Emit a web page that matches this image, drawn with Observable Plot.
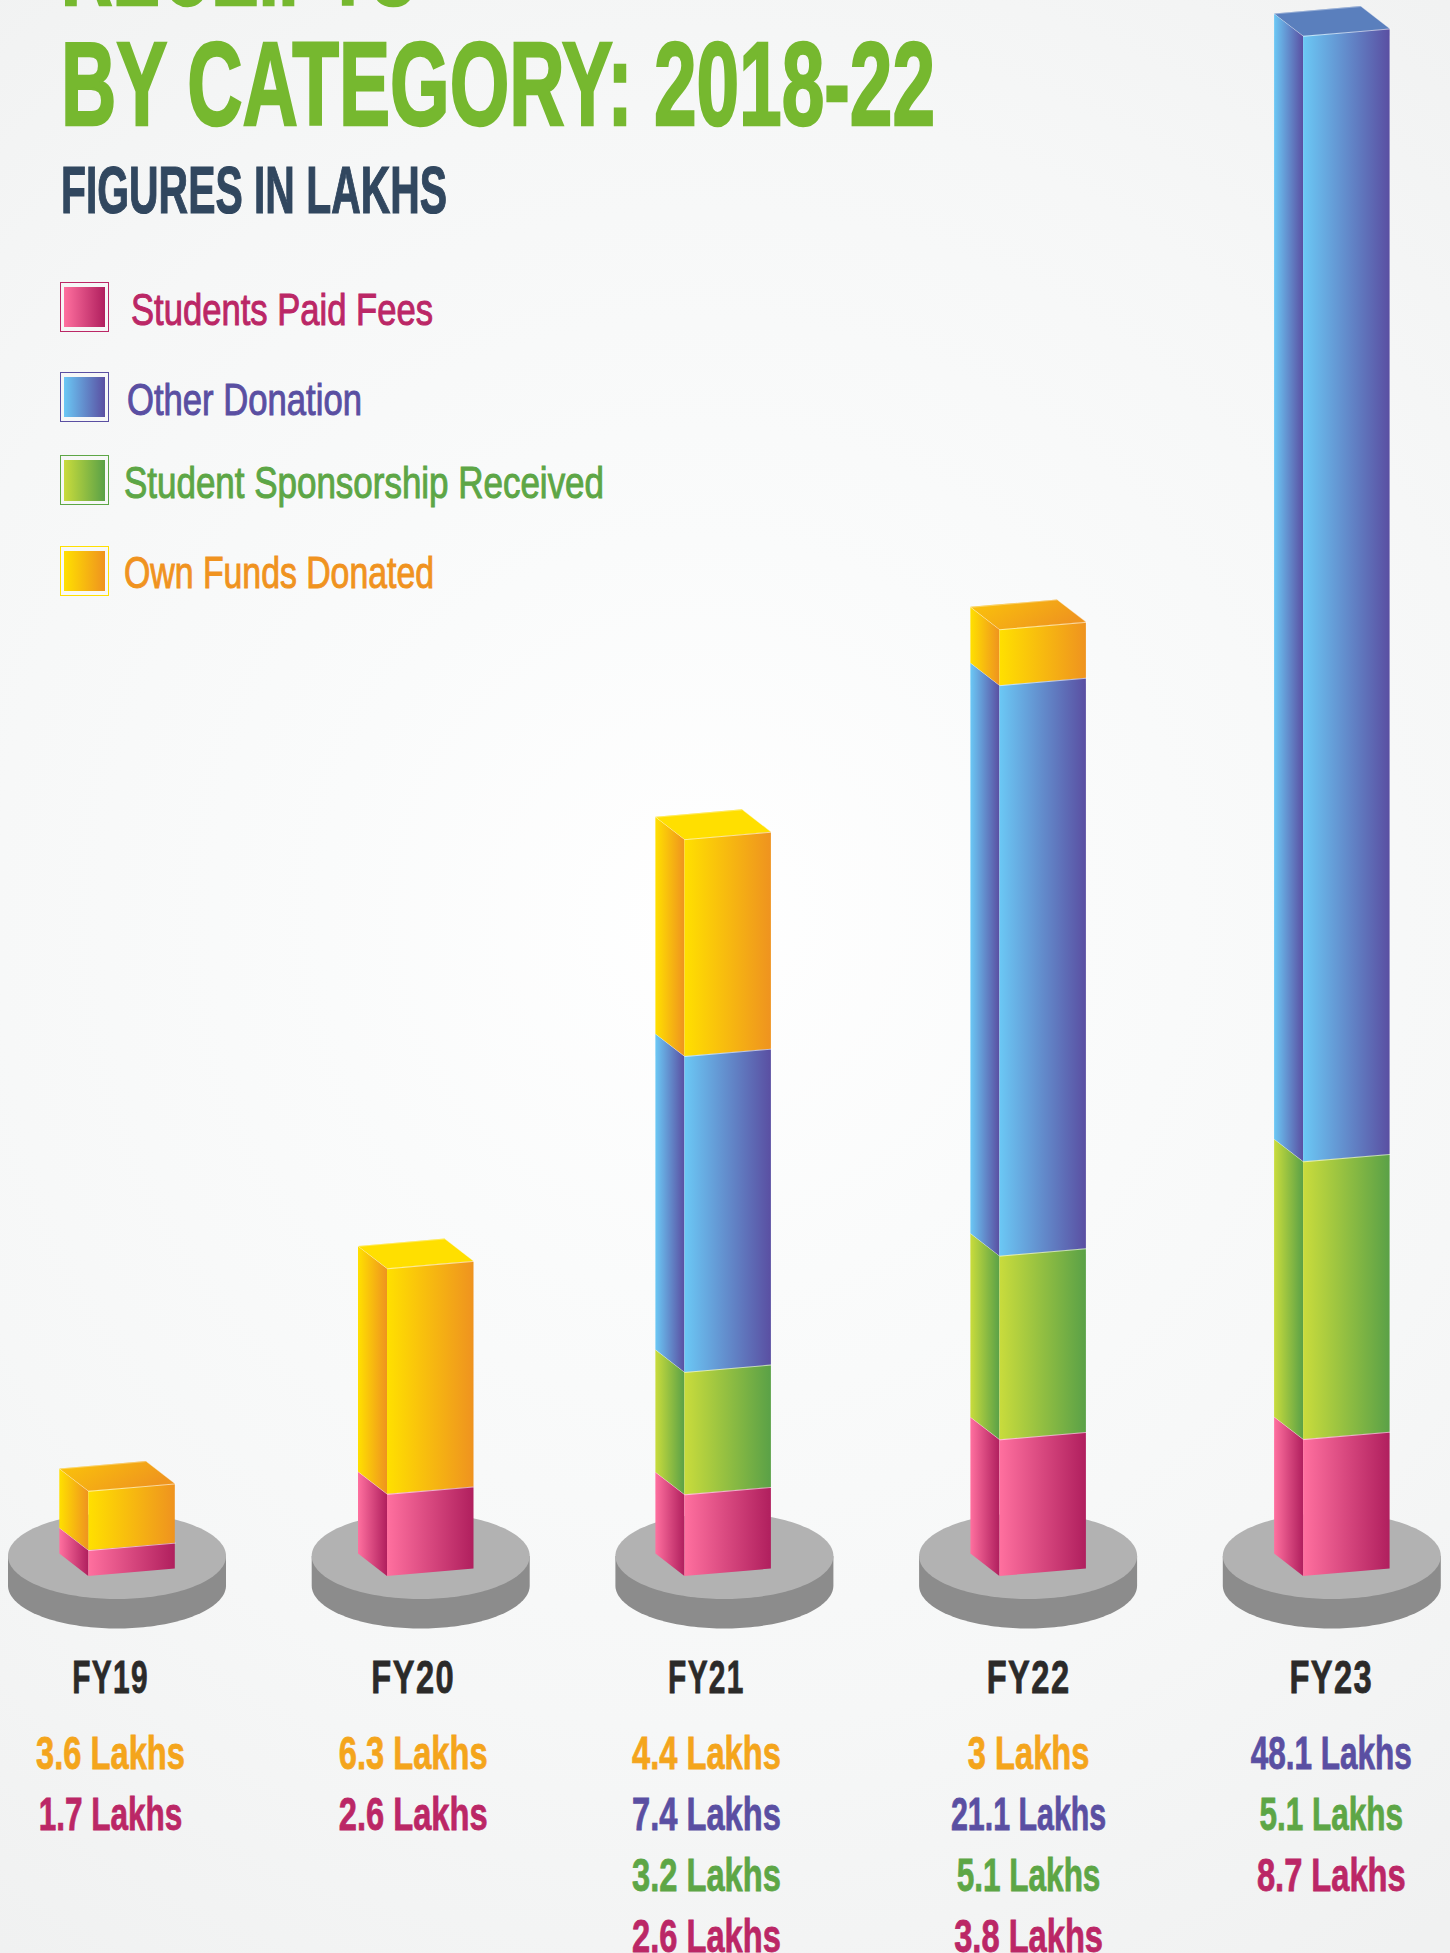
<!DOCTYPE html>
<html>
<head>
<meta charset="utf-8">
<script src="https://cdn.jsdelivr.net/npm/d3@7"></script>
<script src="https://cdn.jsdelivr.net/npm/@observablehq/plot@0.6"></script>
<style>
  html, body { margin: 0; padding: 0; }
  body { width: 1450px; height: 1953px; overflow: hidden; position: relative;
    background: radial-gradient(circle 1250px at 700px 915px, #ffffff 0%, #fafbfb 30%, #f6f7f7 65%, #f0f1f1 100%);
    font-family: "Liberation Sans", sans-serif; }
  #chart { position: absolute; left: 0; top: 0; }
  .fy text, .val text { font-family: "Liberation Sans", sans-serif !important; font-weight: 700; }
  .over { position: absolute; white-space: nowrap; display: inline-block; transform-origin: 0 0; margin: 0; }
  .swatch { position: absolute; box-sizing: border-box; width: 49px; height: 50px; border: 1.6px solid; padding: 3.6px 3.4px; }
  .swatch i { display: block; width: 100%; height: 100%; }
</style>
</head>
<body>
<div id="chart"></div>
<script>
// ---------- data ----------
const fiscalYears = ["FY19", "FY20", "FY21", "FY22", "FY23"];

// Figures printed under each bar (lakhs)
const ownFundsDonated   = [3.6, 6.3, 4.4, 3, null];
const otherDonation     = [null, null, 7.4, 21.1, 48.1];
const studentSponsorship = [null, null, 3.2, 5.1, 5.1];
const studentsPaidFees  = [1.7, 2.6, 2.6, 3.8, 8.7];

// The bars in the source graphic are not proportional to the printed figures,
// so the segment heights are read off the picture separately, in drawn units.
const drawnFees     = [1.11, 3.51, 3.49, 5.84, 5.85];
const drawnSponsor  = [0, 0, 5.23, 7.85, 11.87];
const drawnOther    = [0, 0, 13.5, 24.38, 48.1];
const drawnOwnFunds = [2.53, 9.64, 9.27, 2.39, 0];

const seriesNames = ["Students Paid Fees", "Other Donation", "Student Sponsorship Received", "Own Funds Donated"];

// ---------- layout and style ----------
const SLOT = 303.7, UNIT = 23.4;               // px per fiscal-year slot, px per drawn unit
const SLOT0 = 117, BASE = 1576;                // px of slot 0 and of the bar foot
const X = px => px / SLOT, Y = px => px / UNIT;
const barNudge   = [-28.7, -33.7, -40, -28.7, -28.7];   // front-left corner relative to the disc centre
const labelNudge = [-7, -8, -18.5, 0, -1];
const FACE_W = 86.5, FACE_RISE = 7.4, DEPTH_X = 29, DEPTH_Y = 22.4;
const DISC_RX = 109, DISC_RY = 43, DISC_LIFT = 20, DISC_SIDE = 29.5;

const colors = {
  fees:    {from: "#ff709f", to: "#b01f5e", text: "#bb2766"},
  other:   {from: "#6bc8f5", to: "#5a4fa2", text: "#5a4fa2"},
  sponsor: {from: "#c9dc3c", to: "#5aa147", text: "#5da646"},
  own:     {from: "#ffe000", to: "#ef931f", text: "#f4a51c"}
};
const topFills = ["url(#topOrange)", "#ffdf00", "#ffdf00", "url(#topOrange)", "#5a7fbd"];

// ---------- geometry through the x / y scales ----------
function faces(i) {
  const fx = i + X(barNudge[i]);                // front-left corner
  const stack = [
    ["fees", drawnFees[i]], ["sponsor", drawnSponsor[i]], ["other", drawnOther[i]], ["own", drawnOwnFunds[i]]
  ].filter(d => d[1] > 0);
  const marks = [];
  let h = 0;
  const fw = X(FACE_W), dx = X(DEPTH_X), dy = Y(DEPTH_Y), rise = Y(FACE_RISE);
  stack.forEach(([key, v]) => {
    const lo = h, hi = h + v;
    marks.push(Plot.areaY([
      {x: fx - dx, y1: lo + dy, y2: hi + dy},
      {x: fx, y1: lo, y2: hi}
    ], {x: "x", y1: "y1", y2: "y2", fill: `url(#grad-${key})`}));
    marks.push(Plot.areaY([
      {x: fx, y1: lo, y2: hi},
      {x: fx + fw, y1: lo + rise, y2: hi + rise}
    ], {x: "x", y1: "y1", y2: "y2", fill: `url(#grad-${key})`}));
    marks.push(Plot.line([
      {x: fx - dx, y: hi + dy}, {x: fx, y: hi}, {x: fx + fw, y: hi + rise}
    ], {x: "x", y: "y", stroke: "#fff", strokeWidth: 1, strokeOpacity: 0.6}));
    h = hi;
  });
  // top parallelogram
  const backRise = rise + dy, s = rise / fw;
  marks.push(Plot.areaY([
    {x: fx - dx, y1: h + dy, y2: h + dy},
    {x: fx, y1: h + dy + s * dx, y2: h},
    {x: fx + fw - dx, y1: h + backRise, y2: h + s * (fw - dx)},
    {x: fx + fw, y1: h + rise, y2: h + rise}
  ], {x: "x", y1: "y1", y2: "y2", fill: topFills[i]}));
  marks.push(Plot.line([
    {x: fx - dx, y: h + dy}, {x: fx + fw - dx, y: h + backRise}, {x: fx + fw, y: h + rise}
  ], {x: "x", y: "y", stroke: "#fff", strokeWidth: 0.8, strokeOpacity: 0.45}));
  return marks;
}

const angles = d3.range(0, 181, 2).map(a => a * Math.PI / 180);
function disc(i) {
  const rim = angles.map(t => ({x: i + X(DISC_RX) * Math.cos(t), s: Math.sin(t)}));
  const cy = Y(DISC_LIFT), ry = Y(DISC_RY), side = Y(DISC_SIDE);
  return [
    Plot.areaY(rim, {x: "x", y1: cy, y2: d => cy - ry * d.s - side, fill: "#8c8c8c"}),
    Plot.areaY(rim, {x: "x", y1: d => cy + ry * d.s, y2: d => cy - ry * d.s, fill: "#b2b2b2"})
  ];
}

function defs() {
  const root = d3.create("svg:defs");
  Object.entries(colors).forEach(([k, c]) => {
    const g = root.append("linearGradient").attr("id", `grad-${k}`);
    g.append("stop").attr("offset", 0).attr("stop-color", c.from);
    g.append("stop").attr("offset", 1).attr("stop-color", c.to);
  });
  const t = root.append("linearGradient").attr("id", "topOrange").attr("x1", 0).attr("x2", 1).attr("y1", 0).attr("y2", 0.4);
  t.append("stop").attr("offset", 0).attr("stop-color", "#fbc50a");
  t.append("stop").attr("offset", 1).attr("stop-color", "#ef951e");
  return root.node();
}

// ---------- labels ----------
const rowOf = px => (BASE - px) / UNIT;
const labelFont = {lineAnchor: "bottom", textAnchor: "middle"};
const valueRows = [];
fiscalYears.forEach((fy, i) => {
  [[ownFundsDonated, "own"], [otherDonation, "other"], [studentSponsorship, "sponsor"], [studentsPaidFees, "fees"]]
    .filter(([arr]) => arr[i] != null)
    .forEach(([arr, key], row) => valueRows.push({i, row, key, text: `${arr[i]} Lakhs`}));
});

const chart = Plot.plot({
  width: 1450, height: 1953,
  marginTop: 0, marginRight: 0, marginBottom: 0, marginLeft: 0,
  style: {background: "transparent"},
  x: {type: "linear", domain: [-SLOT0 / SLOT, (1450 - SLOT0) / SLOT], range: [0, 1450], axis: null},
  y: {type: "linear", domain: [-(1953 - BASE) / UNIT, BASE / UNIT], range: [1953, 0], axis: null},
  marks: [
    defs,
    ...fiscalYears.flatMap((_, i) => disc(i)),
    ...fiscalYears.flatMap((_, i) => faces(i)),
    Plot.text(fiscalYears, {
      ...labelFont, className: "fy",
      x: (_, i) => i + X(labelNudge[i]), y: () => rowOf(1692),
      text: d => d, fontSize: 46, fill: "#2b2a29"
    }),
    ...Object.keys(colors).map(key => Plot.text(valueRows.filter(d => d.key === key), {
      ...labelFont, className: "val",
      x: d => d.i + X(labelNudge[d.i]), y: d => rowOf(1768 + 61 * d.row),
      text: "text", fontSize: 46, fill: colors[key].text
    }))
  ]
});
document.getElementById("chart").append(chart);

// condense the SVG labels to the width of the source's condensed face;
// its "1" is much narrower than Liberation's, so labels holding ones squeeze a little more
function condense(sel, k, perOne) {
  document.querySelectorAll(sel).forEach(t => {
    const ones = (t.textContent.match(/1/g) || []).length;
    const sx = k * (1 - perOne * ones);
    t.setAttribute("transform", `${t.getAttribute("transform") || ""} scale(${sx},1)`);
    t.style.stroke = getComputedStyle(t).fill;
    t.style.strokeWidth = "0.8px";
  });
}
condense(".val text", 0.71, 0.035);
document.querySelectorAll(".fy text").forEach(t => t.style.letterSpacing = "2px");
condense(".fy text", 0.71, 0.085);

// ---------- title, subtitle and legend, laid over the empty top-left of the plot ----------
function over(tag, text, left, baseline, size, width, color, weight, stroke) {
  const el = document.createElement(tag);
  el.className = "over";
  el.textContent = text;
  el.style.cssText = `left:${left}px;top:${baseline - 0.8465 * size}px;font-size:${size}px;line-height:${size}px;color:${color};font-weight:${weight};${stroke ? `-webkit-text-stroke:${stroke}px ${color};` : ""}`;
  document.body.append(el);
  el.style.transform = `scaleX(${width / el.getBoundingClientRect().width})`;
  return el;
}
over("h1", "RECEIPTS", 61, 4.5, 118, 356, "#76b82f", 700, 2.5);
over("h1", "BY CATEGORY: 2018-22", 61, 124.4, 118, 874, "#76b82f", 700, 2.5);
over("h2", "FIGURES IN LAKHS", 60.5, 212.5, 66, 386, "#31475f", 700, 1.2);

const legend = [
  {key: "fees",    top: 282,  textX: 131,   base: 325,   w: 302, color: "#bb2766", border: "#bb2766"},
  {key: "other",   top: 372,  textX: 127,   base: 415,   w: 235, color: "#5a4fa2", border: "#5a4fa2"},
  {key: "sponsor", top: 455.4,textX: 124,   base: 498.5, w: 480, color: "#5da646", border: "#5da646"},
  {key: "own",     top: 546,  textX: 124,   base: 588.6, w: 310, color: "#f0931f", border: "#ffe000"}
];
legend.forEach((d, i) => {
  const s = document.createElement("div");
  s.className = "swatch";
  s.style.cssText = `left:60px;top:${d.top}px;border-color:${d.border}`;
  s.innerHTML = `<i style="background:linear-gradient(90deg,${colors[d.key].from},${colors[d.key].to})"></i>`;
  document.body.append(s);
  over("div", seriesNames[i], d.textX, d.base, 44, d.w, d.color, 400, 1);
});
</script>
</body>
</html>
